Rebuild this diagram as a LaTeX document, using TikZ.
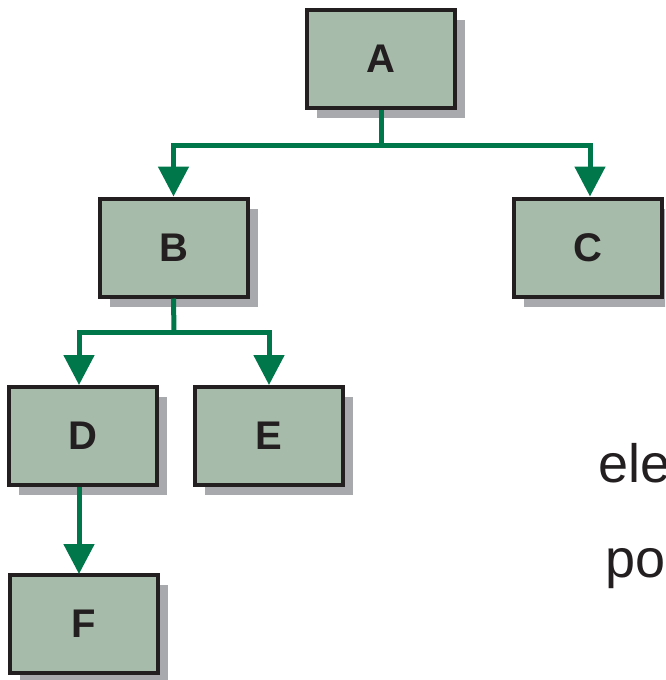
\documentclass[tikz,border=0pt]{standalone}
\usepackage{fontspec}
\setmainfont{Liberation Sans}
\usetikzlibrary{arrows.meta,shadows}
\definecolor{boxfill}{HTML}{A7BBAA}
\definecolor{boxline}{HTML}{231F20}
\definecolor{shadowgray}{HTML}{A8A9AD}
\definecolor{linkgreen}{HTML}{00774A}
\tikzset{
  treebox/.style={draw=boxline, fill=boxfill, line width=4pt, minimum width=148pt, minimum height=98pt, inner sep=0pt,
    font=\fontsize{40}{40}\selectfont\bfseries, text=boxline,
    drop shadow={shadow xshift=10pt, shadow yshift=-10pt, fill=shadowgray, opacity=1}},
  link/.style={draw=linkgreen, line width=5pt},
  arr/.style={link, -{Triangle[width=30pt,length=30pt]}},
  sidetext/.style={font=\fontsize{54}{54}\selectfont, text=boxline, inner sep=0pt, anchor=base west}
}
\begin{document}
\begin{tikzpicture}[x=1pt,y=-1pt]
\useasboundingbox (0,0) rectangle (665,680);
\clip (0,0) rectangle (665,680);
\node[treebox] (A) at (381,59) {A};
\node[treebox] (B) at (173.5,247.5) {B};
\node[treebox] (C) at (588,247.5) {C};
\node[treebox] (D) at (82.5,436) {D};
\node[treebox] (E) at (269,436) {E};
\node[treebox] (F) at (84,624) {F};
\coordinate (j1) at (381,145);
\coordinate (j2) at (174,332);
\draw[link] (A.south) -- (j1);
\draw[arr] (j1) -| (B.north);
\draw[arr] (j1) -| ([xshift=2pt]C.north);
\draw[link] (B.south) -- (j2);
\draw[arr] (j2) -| ([xshift=-3.5pt]D.north);
\draw[arr] (j2) -| (E.north);
\draw[arr] ([xshift=-3.5pt]D.south) -- ([xshift=-3.5pt,yshift=-1pt]D.south |- F.north);
\node[sidetext] (t1) at (598,482) {ele};
\node[sidetext] (t2) at (605,577) {po};
\end{tikzpicture}
\end{document}
